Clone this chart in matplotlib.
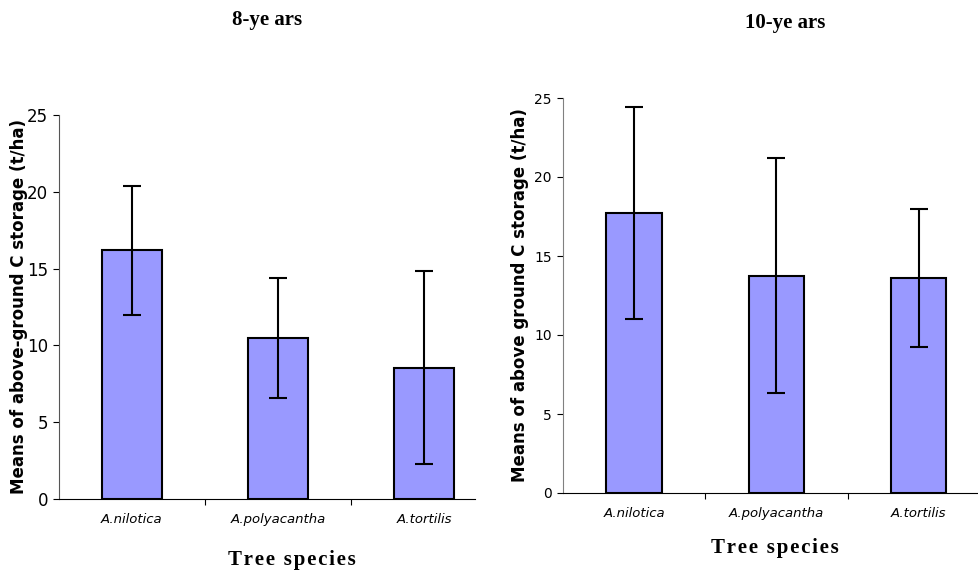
import matplotlib.pyplot as plt
import numpy as np

species = ["A.nilotica", "A.polyacantha", "A.tortilis"]
mean_8 = [16.2, 10.5, 8.55]
err_8 = [4.2, 3.9, 6.3]
mean_10 = [17.7, 13.75, 13.6]
err_10 = [6.7, 7.45, 4.35]

W, H = 979, 572
fig = plt.figure(figsize=(W/100, H/100), dpi=100)

def px(x0, y0, x1, y1):
    # pixel box (top-left origin) -> figure fraction
    return [x0/W, 1-y1/H, (x1-x0)/W, (y1-y0)/H]

def panel(rect, means, errs, xmax, bw, tsize, spine_col):
    ax = fig.add_axes(rect)
    x = np.arange(len(species))
    ax.bar(x, means, width=bw, color="#9999ff", edgecolor="black", linewidth=1.5, zorder=2)
    ax.errorbar(x, means, yerr=errs, fmt="none", ecolor="black", elinewidth=1.5,
                capsize=6.5, capthick=1.5, zorder=3)
    ax.set_xlim(-0.5, xmax)
    ax.set_ylim(0, 25)
    ax.set_yticks([0, 5, 10, 15, 20, 25])
    ax.set_xticks([0.5, 1.5])
    ax.set_xticklabels([])
    ax.set_xticks(x, minor=True)
    ax.set_xticklabels(species, minor=True, style="italic", fontsize=9.5)
    ax.tick_params(axis="x", which="minor", length=0, pad=10)
    ax.tick_params(axis="x", which="major", length=4, width=0.8, direction="out")
    ax.tick_params(axis="y", labelsize=tsize, length=4, width=0.8, pad=4)
    for s in ["top", "right"]:
        ax.spines[s].set_visible(False)
    ax.spines["left"].set_color(spine_col)
    ax.spines["bottom"].set_color("black")
    return ax

panel(px(59, 115, 475, 499), mean_8, err_8, -0.5 + 416/146, 0.41, 12, "#555555")
panel(px(563, 98, 979, 493), mean_10, err_10, -0.5 + 416/142.3, 0.39, 10, "#808080")

fig.text(19/W, 1-306/H, "Means of above-ground C storage (t/ha)", rotation=90,
         ha="center", va="center", fontsize=12, fontweight="bold")
fig.text(520/W, 1-295/H, "Means of above ground C storage (t/ha)", rotation=90,
         ha="center", va="center", fontsize=12, fontweight="bold")

serif = ["Liberation Serif", "DejaVu Serif"]
xlab = "\u200a".join("Tree species")
fig.text(267/W, 1-20/H, "8-ye ars", ha="center", va="center", fontsize=15,
         fontweight="bold", family=serif)
fig.text(785/W, 1-23/H, "10-ye ars", ha="center", va="center", fontsize=15,
         fontweight="bold", family=serif)
fig.text(292/W, 1-560/H, xlab, ha="center", va="center",
         fontsize=15, fontweight="bold", family=serif)
fig.text(775/W, 1-548/H, xlab, ha="center", va="center",
         fontsize=15, fontweight="bold", family=serif)

fig.savefig("out.png", dpi=100)
